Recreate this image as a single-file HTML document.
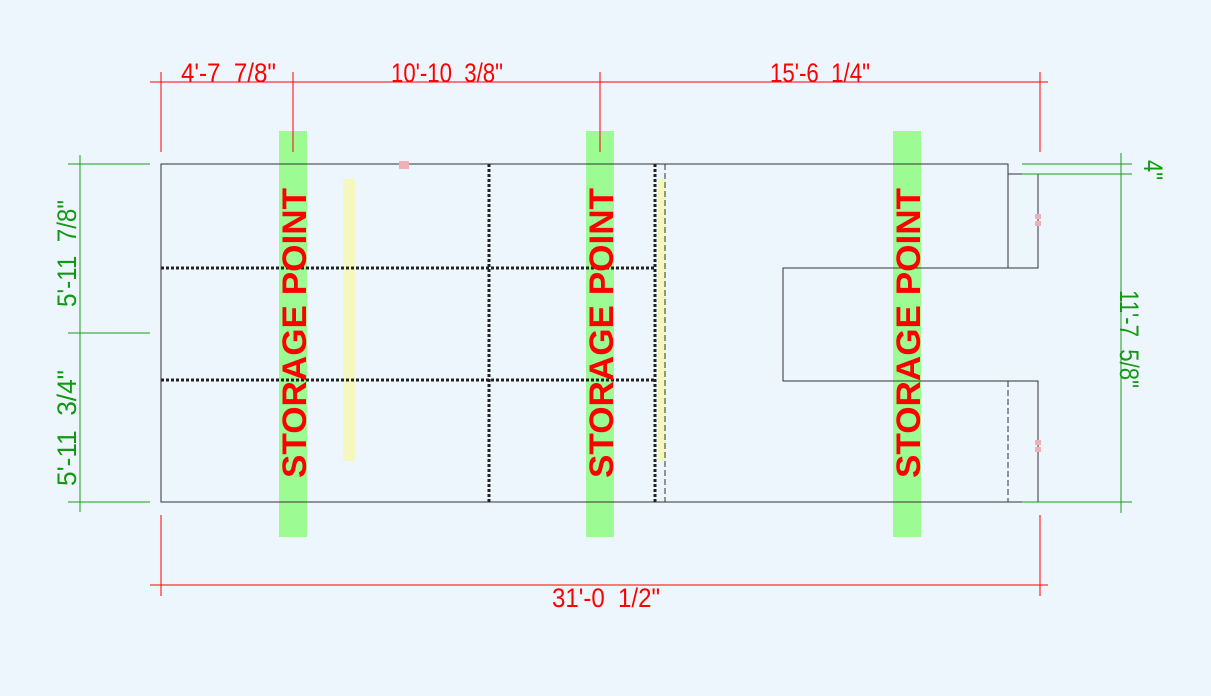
<!DOCTYPE html><html><head><style>body{margin:0;background:#eef6fd}svg{display:block}text{white-space:pre}</style></head><body>
<svg width="1211" height="696" xmlns="http://www.w3.org/2000/svg" font-family="Liberation Sans, sans-serif" xml:space="preserve">
<rect width="1211" height="696" fill="#eef6fd"/>
<g fill="#9cfb93"><rect x="279" y="131" width="28" height="406"/><rect x="586" y="131" width="28" height="406"/><rect x="893" y="131" width="28" height="406"/></g>
<g fill="#f4f8bd"><rect x="343" y="179" width="12" height="282"/><rect x="658" y="179" width="8" height="282"/></g>
<g stroke="#333" stroke-width="1" fill="none">
<path d="M161 164H1008V268H783V381H1038V502H161Z"/>
<path d="M1008 164V174H1038V268H1008"/>
</g>
<path d="M1008 381V502M665 164V502" stroke="#333" stroke-dasharray="6 3" fill="none"/>
<g stroke="#222" stroke-width="3" stroke-dasharray="3 2" fill="none">
<path d="M161 268H655M161 380H655M489 164V502M655 164V502"/>
</g>
<g fill="#f0b0b8"><rect x="399" y="161" width="10" height="8"/><rect x="1035" y="214" width="6" height="5"/><rect x="1035" y="221" width="6" height="5"/><rect x="1035" y="440" width="6" height="5"/><rect x="1035" y="447" width="6" height="5"/></g>
<g stroke="#f00" stroke-width="1">
<path d="M150 82H1048M161 72V152M293 72V152M600 72V152M1040 72V152M150 585H1048M161 515V596M1040 515V596"/>
</g>
<g fill="#f00" font-size="27">
<text x="181" y="82" textLength="95" lengthAdjust="spacingAndGlyphs">4'-7  7/8"</text>
<text x="391" y="82" textLength="112" lengthAdjust="spacingAndGlyphs">10'-10  3/8"</text>
<text x="770" y="82" textLength="100" lengthAdjust="spacingAndGlyphs">15'-6  1/4"</text>
<text x="552" y="607" textLength="108" lengthAdjust="spacingAndGlyphs">31'-0  1/2"</text>
</g>
<g fill="#f00" font-size="34" font-weight="bold">
<text transform="translate(306,478) rotate(-90)" textLength="290" lengthAdjust="spacingAndGlyphs">STORAGE POINT</text>
<text transform="translate(613,478) rotate(-90)" textLength="290" lengthAdjust="spacingAndGlyphs">STORAGE POINT</text>
<text transform="translate(920,478) rotate(-90)" textLength="290" lengthAdjust="spacingAndGlyphs">STORAGE POINT</text>
</g>
<g stroke="#1a9a1a" stroke-width="1">
<path d="M80 155V512M68 164H150M68 333H150M68 502H150M1121 153V513M1022 164H1132M1022 174H1132M1022 502H1132"/>
</g>
<g fill="#119911" font-size="27">
<text transform="translate(76,307) rotate(-90)" textLength="107" lengthAdjust="spacingAndGlyphs">5'-11  7/8"</text>
<text transform="translate(76,486) rotate(-90)" textLength="116" lengthAdjust="spacingAndGlyphs">5'-11  3/4"</text>
<text transform="translate(1144,160) rotate(90)" textLength="20" lengthAdjust="spacingAndGlyphs">4"</text>
<text transform="translate(1120,290) rotate(90)" textLength="98" lengthAdjust="spacingAndGlyphs">11'-7  5/8"</text>
</g>
</svg></body></html>
